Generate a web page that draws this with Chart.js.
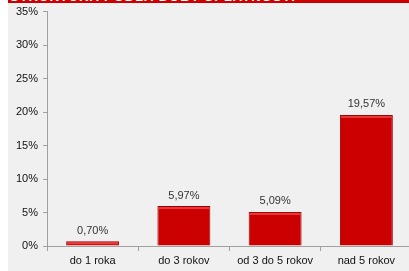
<!DOCTYPE html>
<html><head><meta charset="utf-8">
<script src="https://cdn.jsdelivr.net/npm/chart.js@4/dist/chart.umd.min.js"></script>
<style>
html,body{margin:0;padding:0;background:#fff;overflow:hidden;width:409px;height:271px;}
#wrap{position:absolute;left:8px;top:0;width:404px;height:271px;background:#f0f0f0;}
#band{position:absolute;left:0;top:0;width:404px;height:3px;background:#cc0000;overflow:hidden;}
#band span{position:absolute;left:2px;top:-11px;font:bold 13px "Liberation Sans",Arial,sans-serif;color:#fff;white-space:nowrap;letter-spacing:1px;}
#cw{position:absolute;left:0;top:0;width:404px;height:271px;}
</style></head>
<body>
<div id="wrap">
<div id="cw"><canvas id="c"></canvas></div>
<div id="band"><span>ŠTRUKTÚRA PODĽA DOBY SPLATNOSTI</span></div>
</div>
<script>
const categories = ["do 1 roka", "do 3 rokov", "od 3 do 5 rokov", "nad 5 rokov"];
const values = [0.70, 5.97, 5.09, 19.57];
const valueLabels = ["0,70%", "5,97%", "5,09%", "19,57%"];
const yTicks = [0, 5, 10, 15, 20, 25, 30, 35];

const labelPlugin = {
  id: 'valLabels',
  afterDatasetsDraw(chart) {
    const ctx = chart.ctx;
    const meta = chart.getDatasetMeta(0);
    ctx.save();
    meta.data.forEach((bar, i) => {
      const w = bar.width;
      ctx.fillStyle = '#e83a3a';
      ctx.fillRect(bar.x - w / 2 + 1, bar.y + 1, w - 2, 2);
    });
    ctx.font = '11px "Liberation Sans", Arial, sans-serif';
    ctx.fillStyle = '#333';
    ctx.textAlign = 'center';
    ctx.textBaseline = 'bottom';
    meta.data.forEach((bar, i) => {
      ctx.fillText(valueLabels[i], bar.x, bar.y - 5);
    });
    ctx.restore();
  }
};

const ctx = document.getElementById('c').getContext('2d');
new Chart(ctx, {
  type: 'bar',
  data: {
    labels: categories,
    datasets: [{
      data: values,
      backgroundColor: '#cc0000',
      borderColor: '#9a0000',
      borderWidth: 1,
      barPercentage: 0.58,
      categoryPercentage: 1.0
    }]
  },
  options: {
    responsive: true,
    maintainAspectRatio: false,
    animation: false,
    devicePixelRatio: 1,
    layout: { padding: { top: 7, right: 0, left: 0, bottom: 0 } },
    plugins: { legend: { display: false }, tooltip: { enabled: false }, title: { display: false } },
    scales: {
      x: {
        grid: { display: true, drawOnChartArea: false, offset: true, tickLength: 5, color: '#a0a0a0' },
        border: { color: '#a0a0a0' },
        ticks: { color: '#111', font: { family: '"Liberation Sans", Arial, sans-serif', size: 11 }, padding: 3, maxRotation: 0 },
        afterFit(scale) { scale.height = 25; }
      },
      y: {
        min: 0, max: 35,
        afterBuildTicks(scale) { scale.ticks = yTicks.map(v => ({ value: v })); },
        grid: { display: true, drawOnChartArea: false, tickLength: 4, color: '#a0a0a0' },
        border: { color: '#a0a0a0' },
        ticks: {
          color: '#111', padding: 5,
          font: { family: '"Liberation Sans", Arial, sans-serif', size: 11 },
          callback: v => v + '%'
        },
        afterFit(scale) { scale.width = 39; }
      }
    }
  },
  plugins: [labelPlugin]
});
</script>
</body></html>
